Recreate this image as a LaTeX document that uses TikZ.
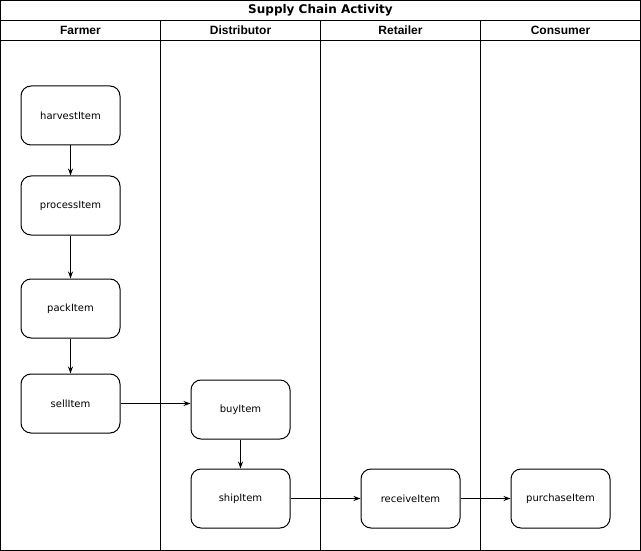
\documentclass[tikz,border=0pt]{standalone}
\usepackage{fontspec}
\setmainfont{Liberation Sans}
\newfontfamily\nodefont{DejaVu Sans}
\usetikzlibrary{arrows.meta}
\begin{document}
\begin{tikzpicture}[x=1pt,y=-1pt,line width=1pt,
  act/.style={draw,rounded corners=10pt,minimum width=99pt,minimum height=59pt,inner sep=0pt,font=\nodefont\fontsize{10}{12}\selectfont},
  hdr/.style={font=\bfseries\fontsize{12}{14}\selectfont,inner sep=0pt},
  ttl/.style={font=\nodefont\bfseries\fontsize{12}{14}\selectfont,inner sep=0pt},
  arr/.style={-{Stealth[length=7pt,width=5pt]}}]
\useasboundingbox (0,0) rectangle (641,551);
\draw (0.5,0.5) rectangle (640.5,550.5);
\draw (0.5,20.5) -- (640.5,20.5);
\draw (0.5,40.5) -- (640.5,40.5);
\draw (160.5,20.5) -- (160.5,550.5);
\draw (320.5,20.5) -- (320.5,550.5);
\draw (480.5,20.5) -- (480.5,550.5);
\node[ttl] (title) at (320.5,10.5) {Supply Chain Activity};
\node[hdr] (farmer) at (80.5,30.5) {Farmer};
\node[hdr] (distributor) at (240.5,30.5) {Distributor};
\node[hdr] (retailer) at (400.5,30.5) {Retailer};
\node[hdr] (consumer) at (560.5,30.5) {Consumer};
\node[act] (harvest) at (70.5,115.5) {harvestItem};
\node[act] (process) at (70.5,205.5) {processItem};
\node[act] (pack) at (70.5,308.5) {packItem};
\node[act] (sell) at (70.5,403.5) {sellItem};
\node[act] (buy) at (240.5,409.5) {buyItem};
\node[act] (ship) at (240.5,498.5) {shipItem};
\node[act] (receive) at (410.5,498.5) {receiveItem};
\node[act] (purchase) at (560.5,498.5) {purchaseItem};
\draw[arr] (harvest) -- (process);
\draw[arr] (process) -- (pack);
\draw[arr] (pack) -- (sell);
\draw[arr] (sell.east) -- (sell.east -| buy.west);
\draw[arr] (buy) -- (ship);
\draw[arr] (ship) -- (receive);
\draw[arr] (receive) -- (purchase);
\end{tikzpicture}
\end{document}
